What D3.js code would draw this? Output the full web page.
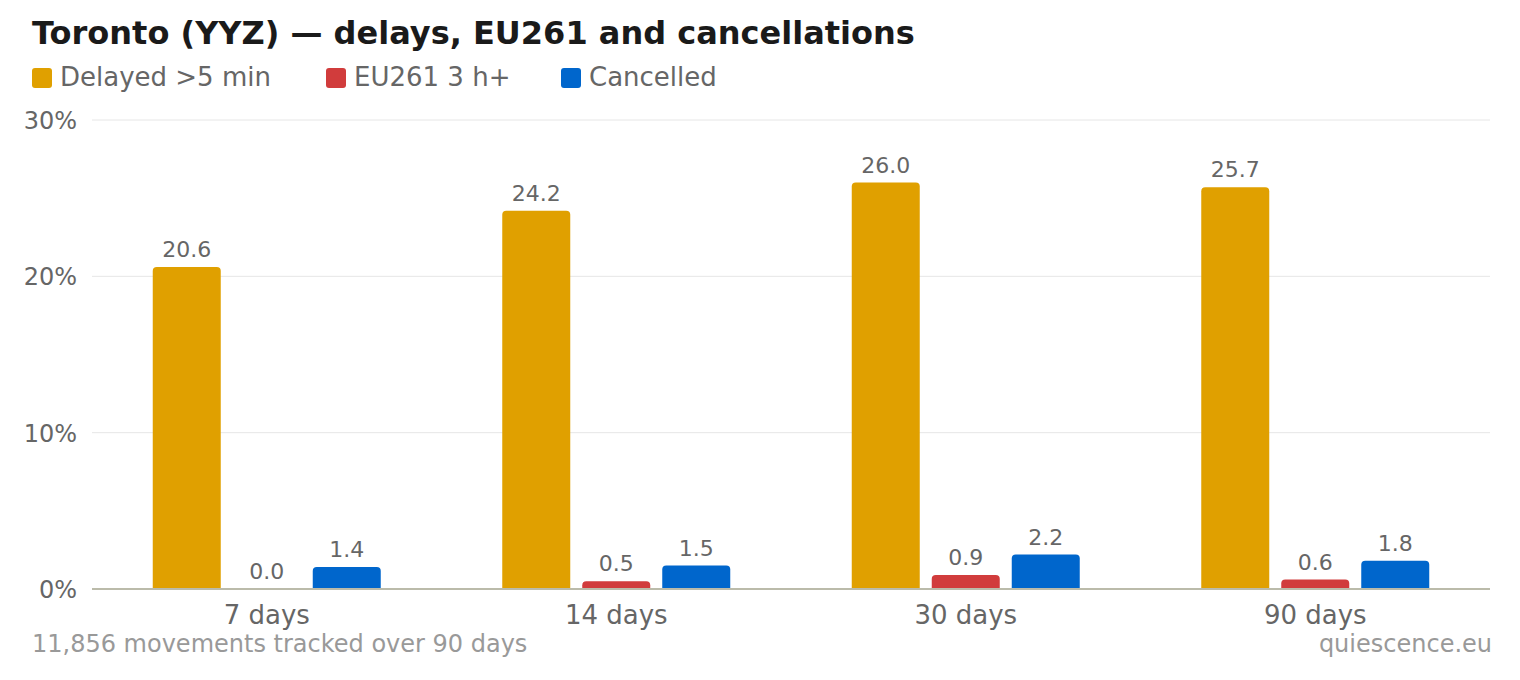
<!DOCTYPE html>
<html><head><meta charset="utf-8">
<script src="https://cdn.jsdelivr.net/npm/d3@7"></script>
<style>body{margin:0;background:#fff}svg{font-family:"DejaVu Sans",sans-serif}</style>
</head><body><svg id="c" width="1520" height="680"></svg>
<script>
const categories = ['7 days', '14 days', '30 days', '90 days']
const seriesNames = ['Delayed >5 min', 'EU261 3 h+', 'Cancelled']
const seriesColors = ['#e0a000', '#d13c3c', '#0066cc']
const delayed = [20.6, 24.2, 26.0, 25.7]
const eu261 = [0.0, 0.5, 0.9, 0.6]
const cancelled = [1.4, 1.5, 2.2, 1.8]
const yTicks = [0, 10, 20, 30]

const series = [delayed, eu261, cancelled]
const svg = d3.select('#c')
const plotLeft = 92, plotRight = 1490, plotTop = 120, plotBottom = 589

const x = d3.scaleBand().domain(categories).range([plotLeft, plotRight])
const xs = d3.scaleBand().domain(d3.range(3)).range([-114, 114]).paddingInner(0.15).paddingOuter(0)
const y = d3.scaleLinear().domain([0, 30]).range([plotBottom, plotTop])

svg.append('text').attr('x', 32).attr('y', 44).attr('font-size', 32).attr('font-weight', 'bold')
	.attr('fill', '#1a1a1a').text('Toronto (YYZ) — delays, EU261 and cancellations')

let lx = [32, 326, 561]
seriesNames.forEach((n, i) => {
	svg.append('rect').attr('x', lx[i]).attr('y', 68).attr('width', 20).attr('height', 20).attr('rx', 3).attr('fill', seriesColors[i])
	svg.append('text').attr('x', lx[i] + 28).attr('y', 86).attr('font-size', 26).attr('fill', '#666').text(n)
})

yTicks.forEach(t => {
	if (t > 0) svg.append('line').attr('x1', plotLeft).attr('x2', plotRight).attr('y1', y(t)).attr('y2', y(t)).attr('stroke', '#e6e6e6')
	svg.append('text').attr('x', 77).attr('y', y(t) + 9).attr('text-anchor', 'end').attr('font-size', 24).attr('fill', '#666').text(t + '%')
})

function topRounded(x0, y0, w, h, r) {
	r = Math.min(r, h)
	return `M${x0},${y0 + h}V${y0 + r}Q${x0},${y0} ${x0 + r},${y0}H${x0 + w - r}Q${x0 + w},${y0} ${x0 + w},${y0 + r}V${y0 + h}Z`
}

categories.forEach((c, ci) => {
	const cx = x(c) + x.bandwidth() / 2
	series.forEach((s, si) => {
		const v = s[ci]
		const bx = cx + xs(si)
		const w = xs.bandwidth()
		if (v > 0) svg.append('path').attr('d', topRounded(bx, y(v), w, plotBottom - y(v), 4)).attr('fill', seriesColors[si])
		svg.append('text').attr('x', bx + w / 2).attr('y', y(v) - 10).attr('text-anchor', 'middle')
			.attr('font-size', 22).attr('fill', '#666').text(v.toFixed(1))
	})
	svg.append('text').attr('x', cx).attr('y', 624).attr('text-anchor', 'middle').attr('font-size', 26).attr('fill', '#666').text(c)
})

svg.append('line').attr('x1', plotLeft).attr('x2', plotRight).attr('y1', plotBottom).attr('y2', plotBottom).attr('stroke', '#bbbbaa').attr('stroke-width', 2)

svg.append('text').attr('x', 32).attr('y', 652).attr('font-size', 24).attr('fill', '#999').text('11,856 movements tracked over 90 days')
svg.append('text').attr('x', 1492).attr('y', 652).attr('text-anchor', 'end').attr('font-size', 24).attr('fill', '#999').text('quiescence.eu')
</script></body></html>
